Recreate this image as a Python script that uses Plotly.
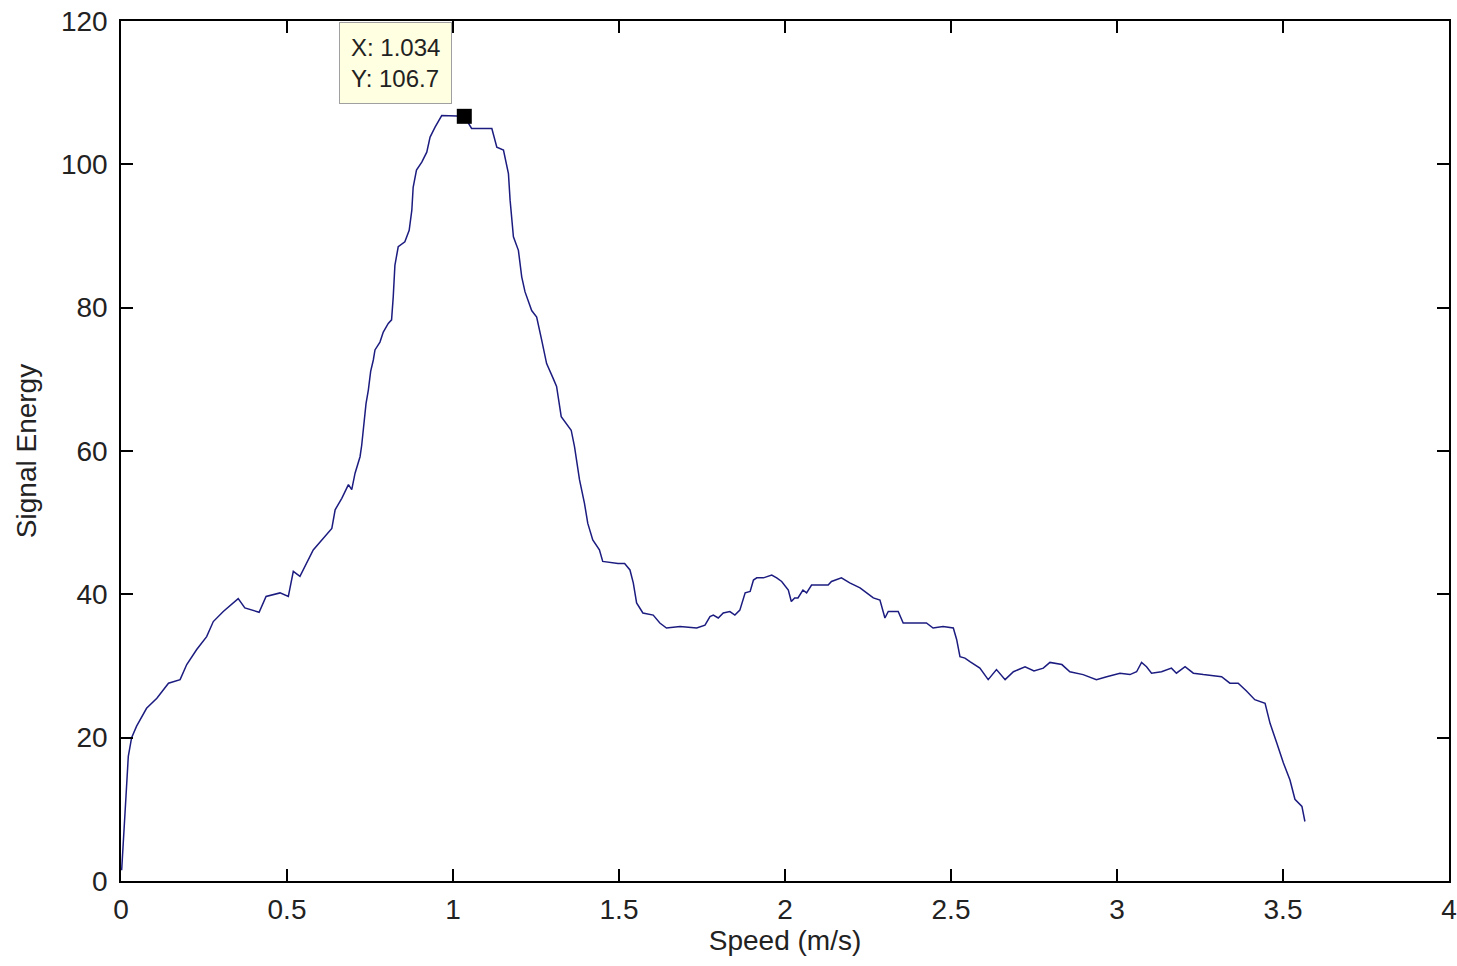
import plotly.graph_objects as go

speed = [0.002, 0.006, 0.015, 0.022, 0.032, 0.047, 0.077, 0.108, 0.143, 0.178,
         0.198, 0.228, 0.258, 0.278, 0.308, 0.353, 0.373, 0.416, 0.437, 0.479,
         0.504, 0.519, 0.539, 0.579, 0.610, 0.635, 0.645, 0.665, 0.685, 0.695,
         0.705, 0.720, 0.725, 0.730, 0.738, 0.745, 0.752, 0.760, 0.765, 0.780,
         0.790, 0.805, 0.815, 0.820, 0.825, 0.835, 0.855, 0.868, 0.876, 0.880,
         0.890, 0.906, 0.921, 0.931, 0.946, 0.966, 0.986, 1.034, 1.056, 1.117,
         1.132, 1.152, 1.167, 1.172, 1.182, 1.197, 1.207, 1.217, 1.237, 1.252,
         1.267, 1.282, 1.302, 1.312, 1.326, 1.356, 1.366, 1.381, 1.396, 1.406,
         1.421, 1.441, 1.451, 1.497, 1.517, 1.533, 1.543, 1.553, 1.572, 1.603,
         1.623, 1.643, 1.684, 1.734, 1.759, 1.774, 1.784, 1.799, 1.814, 1.834,
         1.849, 1.864, 1.880, 1.895, 1.905, 1.915, 1.935, 1.960, 1.975, 1.990,
         2.010, 2.019, 2.029, 2.039, 2.054, 2.065, 2.080, 2.130, 2.140, 2.170,
         2.195, 2.226, 2.246, 2.266, 2.286, 2.301, 2.311, 2.341, 2.356, 2.426,
         2.446, 2.476, 2.507, 2.517, 2.527, 2.542, 2.557, 2.587, 2.612, 2.637,
         2.663, 2.688, 2.723, 2.750, 2.778, 2.798, 2.834, 2.858, 2.898, 2.938,
         2.969, 3.009, 3.039, 3.059, 3.074, 3.089, 3.104, 3.134, 3.164, 3.179,
         3.205, 3.230, 3.260, 3.315, 3.340, 3.365, 3.390, 3.415, 3.446, 3.461,
         3.481, 3.501, 3.521, 3.536, 3.557, 3.566]

energy = [1.5, 5.3, 11.8, 17.4, 20.0, 21.6, 24.1, 25.5, 27.6, 28.1,
          30.2, 32.3, 34.1, 36.2, 37.6, 39.4, 38.1, 37.5, 39.7, 40.2,
          39.7, 43.2, 42.5, 46.2, 47.8, 49.2, 51.8, 53.4, 55.3, 54.6,
          56.9, 59.2, 60.8, 63.4, 66.6, 68.5, 71.1, 72.7, 74.1, 75.2,
          76.6, 77.8, 78.3, 81.5, 85.9, 88.5, 89.2, 90.8, 93.6, 96.8,
          99.2, 100.3, 101.7, 103.8, 105.2, 106.8, 106.8, 106.7, 105.0, 105.0,
          102.4, 102.0, 98.7, 95.0, 89.9, 88.0, 84.3, 82.2, 79.6, 78.7,
          75.5, 72.2, 70.1, 69.0, 64.8, 62.9, 60.6, 56.0, 52.7, 49.9,
          47.6, 46.2, 44.6, 44.3, 44.3, 43.4, 41.6, 38.8, 37.4, 37.1,
          36.0, 35.3, 35.5, 35.3, 35.7, 36.9, 37.1, 36.7, 37.4, 37.6,
          37.1, 37.8, 40.2, 40.4, 42.0, 42.3, 42.3, 42.7, 42.3, 41.8,
          40.6, 39.0, 39.5, 39.5, 40.6, 40.2, 41.3, 41.3, 41.8, 42.3,
          41.6, 40.9, 40.2, 39.5, 39.2, 36.7, 37.6, 37.6, 36.0, 36.0,
          35.3, 35.5, 35.3, 33.7, 31.3, 31.1, 30.6, 29.7, 28.1, 29.5,
          28.1, 29.2, 29.9, 29.3, 29.7, 30.5, 30.2, 29.2, 28.8, 28.1,
          28.5, 29.0, 28.8, 29.2, 30.5, 29.9, 29.0, 29.2, 29.7, 29.0,
          29.9, 29.0, 28.8, 28.5, 27.6, 27.6, 26.5, 25.3, 24.8, 22.0,
          19.3, 16.5, 14.1, 11.4, 10.4, 8.3]

peak_x = [1.034]
peak_y = [106.7]

x_ticks = [0, 0.5, 1, 1.5, 2, 2.5, 3, 3.5, 4]
x_tick_labels = ["0", "0.5", "1", "1.5", "2", "2.5", "3", "3.5", "4"]
y_ticks = [0, 20, 40, 60, 80, 100, 120]
y_tick_labels = ["0", "20", "40", "60", "80", "100", "120"]

FONT = "Liberation Sans, Arial, sans-serif"

fig = go.Figure()
fig.add_trace(go.Scatter(x=speed, y=energy, mode="lines",
                         line=dict(color="#1c1c80", width=1.5),
                         showlegend=False))
fig.add_trace(go.Scatter(x=peak_x, y=peak_y, mode="markers",
                         marker=dict(symbol="square", size=15, color="black"),
                         showlegend=False))

fig.add_annotation(x=peak_x[0], y=peak_y[0], xref="x", yref="y",
                   text=f"X: {peak_x[0]:.3f}<br>Y: {peak_y[0]:.1f}",
                   showarrow=False, xanchor="right", yanchor="bottom",
                   xshift=-12, yshift=12, align="left",
                   bgcolor="#ffffe1", bordercolor="#a0a0a0", borderwidth=1,
                   borderpad=11, font=dict(family=FONT, size=24, color="#222222"))

axis_common = dict(showline=True, linecolor="black", linewidth=1.5,
                   mirror="ticks", ticks="inside", ticklen=12,
                   tickcolor="black", tickwidth=1.5, showgrid=False,
                   zeroline=False, automargin=False,
                   tickfont=dict(family=FONT, size=28, color="#222222"))

fig.update_layout(
    width=1457, height=966,
    margin=dict(l=121, r=8, t=21, b=85),
    paper_bgcolor="white", plot_bgcolor="white",
    xaxis=dict(range=[0, 4], tickvals=x_ticks, ticktext=x_tick_labels,
               title=dict(text="Speed (m/s)", standoff=4,
                          font=dict(family=FONT, size=28, color="#222222")),
               ticklabelstandoff=3, **axis_common),
    yaxis=dict(range=[0, 120], tickvals=y_ticks, ticktext=y_tick_labels,
               title=dict(text="Signal Energy", standoff=16,
                          font=dict(family=FONT, size=28, color="#222222")),
               ticklabelstandoff=6, **axis_common),
)

fig.write_html("out.html")
